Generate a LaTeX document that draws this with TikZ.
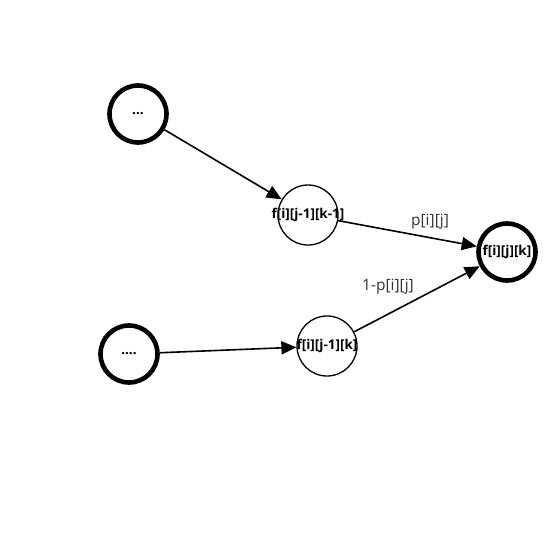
\documentclass[tikz,border=0pt]{standalone}
\usepackage{fontspec}
\setmainfont{Open Sans}
\usetikzlibrary{arrows.meta}
\newcommand\zwbox[1]{\makebox[0pt]{\raisebox{-2pt}{#1}}}
\begin{document}
\begin{tikzpicture}[x=1pt,y=-1pt,
  thickstate/.style={circle,draw,line width=4.6pt,minimum size=57pt,inner sep=0pt,font=\fontsize{13.5pt}{15pt}\selectfont\bfseries},
  thinstate/.style={circle,draw,line width=1.3pt,minimum size=60pt,inner sep=0pt,font=\fontsize{13.5pt}{15pt}\selectfont\bfseries},
  edge/.style={line width=1.6pt,-{Triangle[length=15pt,width=13pt]},shorten >=0pt},
  lbl/.style={font=\fontsize{15.5pt}{18pt}\selectfont,text=black!80}]
\useasboundingbox (0,0) rectangle (557,557);
\node[thickstate] (a) at (138,114) {\zwbox{...}};
\node[thickstate] (c) at (129,354) {\zwbox{....}};
\node[thinstate] (b) at (308,215) {\zwbox{f[i][j-1][k-1]}};
\node[thinstate] (d) at (327,346) {\zwbox{f[i][j-1][k]}};
\node[thickstate] (e) at (507,252) {\zwbox{f[i][j][k]}};
\draw[edge] (a) -- (b);
\draw[edge] (c) -- (d);
\draw[edge] (b) -- (e);
\draw[edge] (d) -- (e);
\node[lbl] (l1) at (430,222) {p[i][j]};
\node[lbl] (l2) at (388,287) {1-p[i][j]};
\end{tikzpicture}
\end{document}
